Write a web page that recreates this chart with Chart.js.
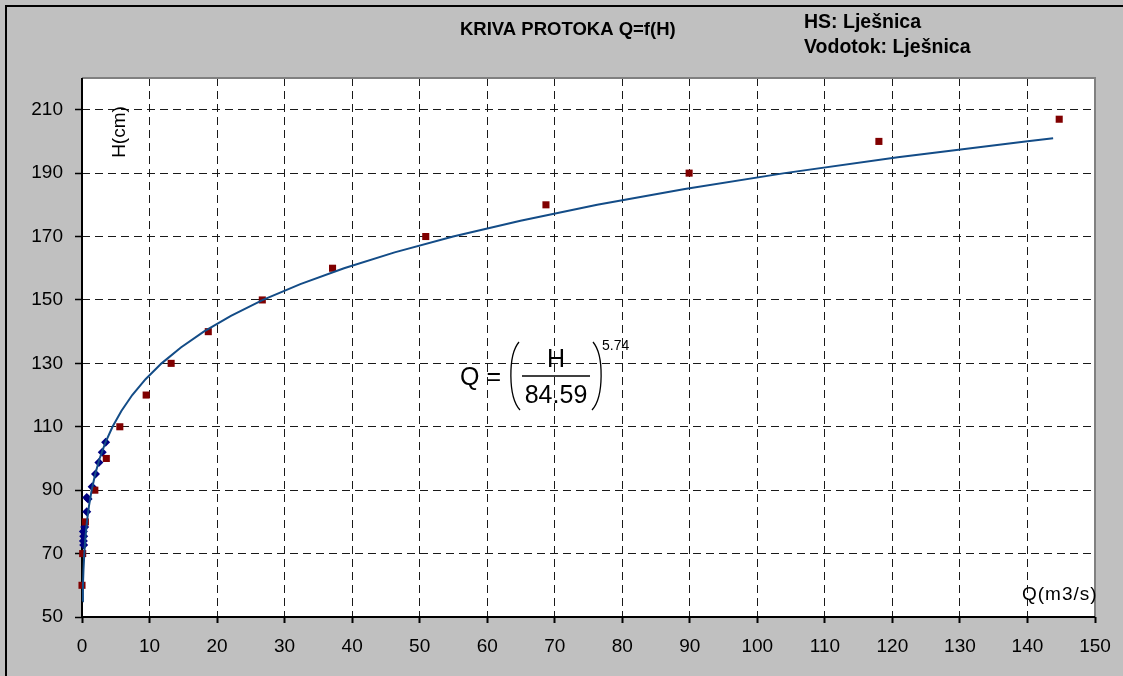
<!DOCTYPE html>
<html>
<head>
<meta charset="utf-8">
<title>Kriva protoka Q=f(H)</title>
<script src="https://cdn.jsdelivr.net/npm/chart.js@4.4.1/dist/chart.umd.min.js"></script>
<style>
  html, body { margin: 0; padding: 0; background: #fff; }
  #wrap { width: 1123px; height: 676px; position: relative; }
</style>
</head>
<body>
<div id="wrap"><canvas id="rating" width="1123" height="676"></canvas></div>
<script>
// rating curve Q=f(H)
const curveH = [55, 60, 65, 70, 75, 80, 85, 90, 95, 100, 105, 110, 115, 120, 125, 130, 135, 140,
                145, 150, 155, 160, 165, 170, 175, 180, 185, 190, 195, 200, 201];
const curveQ = [0.08, 0.14, 0.22, 0.34, 0.5, 0.73, 1.03, 1.43, 1.95, 2.61, 3.46, 4.52, 5.83, 7.44,
                9.41, 11.78, 14.64, 18.03, 22.05, 26.79, 32.33, 38.8, 46.29, 54.96, 64.93, 76.29,
                89.27, 104.05, 120.8, 139.7, 143.8];

// red squares
const tableH = [60, 70, 80, 90, 100, 110, 120, 130, 140, 150, 160, 170, 180, 190, 200, 207];
const tableQ = [0, 0.1, 0.5, 1.9, 3.6, 5.6, 9.5, 13.2, 18.7, 26.7, 37.1, 50.9, 68.7, 89.9, 118, 144.7];

// blue diamonds (measurements)
const measH = [72.7, 74, 75.5, 77, 78.4, 83.2, 87.7, 87.2, 91.1, 95.1, 98.7, 102, 105.1];
const measQ = [0.25, 0.2, 0.25, 0.2, 0.4, 0.7, 0.7, 0.9, 1.5, 2.0, 2.5, 3.0, 3.5];

const xTicks = [0, 10, 20, 30, 40, 50, 60, 70, 80, 90, 100, 110, 120, 130, 140, 150];
const yTicks = [50, 70, 90, 110, 130, 150, 170, 190, 210];

const toXY = (qs, hs) => qs.map((q, i) => ({ x: q, y: hs[i] }));

const FONT = '"Liberation Sans", Arial, sans-serif';

// gray frame, white plot, axis lines
const framePlugin = {
    id: 'frame',
    beforeDraw(chart) {
        const ctx = chart.ctx;
        const a = chart.chartArea;
        ctx.save();
        ctx.fillStyle = '#c0c0c0';
        ctx.fillRect(0, 0, chart.width, chart.height);
        ctx.fillStyle = '#ffffff';
        ctx.fillRect(a.left, a.top, a.right - a.left, a.bottom - a.top);
        ctx.strokeStyle = '#000';
        ctx.lineWidth = 2;
        ctx.beginPath();
        ctx.moveTo(6, chart.height);
        ctx.lineTo(6, 6);
        ctx.lineTo(chart.width, 6);
        ctx.stroke();
        ctx.restore();
    },
    beforeDatasetsDraw(chart) {
        const ctx = chart.ctx;
        const a = chart.chartArea;
        ctx.save();
        ctx.setLineDash([]);
        ctx.strokeStyle = '#808080';
        ctx.lineWidth = 2;
        ctx.beginPath();
        ctx.moveTo(a.left, a.top);
        ctx.lineTo(a.right, a.top);
        ctx.lineTo(a.right, a.bottom);
        ctx.stroke();
        ctx.strokeStyle = '#000';
        ctx.beginPath();
        ctx.moveTo(a.left, a.top);
        ctx.lineTo(a.left, a.bottom);
        ctx.lineTo(a.right, a.bottom);
        ctx.stroke();
        ctx.restore();
    }
};

// titles, axis names and the equation
const textPlugin = {
    id: 'texts',
    afterDraw(chart) {
        const ctx = chart.ctx;
        ctx.save();
        ctx.fillStyle = '#000';
        ctx.textBaseline = 'middle';
        ctx.textAlign = 'left';

        ctx.font = 'bold 18.5px ' + FONT;
        ctx.fillText('KRIVA PROTOKA Q=f(H)', 460, 30);
        ctx.font = 'bold 19.5px ' + FONT;
        ctx.fillText('HS: Lješnica', 804, 23);
        ctx.fillText('Vodotok: Lješnica', 804, 48);

        ctx.font = '19px ' + FONT;
        ctx.save();
        ctx.translate(120, 132);
        ctx.rotate(-Math.PI / 2);
        ctx.textAlign = 'center';
        ctx.fillText('H(cm)', 0, 0);
        ctx.restore();
        ctx.letterSpacing = '1px';
        ctx.fillText('Q(m3/s)', 1022, 595);
        ctx.letterSpacing = '0px';

        // Q = (H / 84.59)^5.74
        ctx.font = '25px ' + FONT;
        ctx.fillText('Q =', 460, 378);
        ctx.textAlign = 'center';
        ctx.fillText('H', 556, 360);
        ctx.fillText('84.59', 556, 396);
        ctx.textAlign = 'left';
        ctx.font = '14px ' + FONT;
        ctx.fillText('5.74', 602, 346);

        ctx.strokeStyle = '#000';
        ctx.lineWidth = 1.5;
        ctx.beginPath();
        ctx.moveTo(522, 376);
        ctx.lineTo(590, 376);
        ctx.stroke();
        ctx.lineWidth = 1.3;
        ctx.beginPath();
        ctx.moveTo(519, 342);
        ctx.bezierCurveTo(508, 355, 508, 397, 520, 410);
        ctx.stroke();
        ctx.beginPath();
        ctx.moveTo(593, 342);
        ctx.bezierCurveTo(604, 355, 604, 397, 592, 410);
        ctx.stroke();
        ctx.restore();
    }
};

const ctx = document.getElementById('rating').getContext('2d');

const ratingChart = new Chart(ctx, {
    type: 'scatter',
    data: {
        datasets: [
            {
                label: 'Q=f(H)',
                type: 'line',
                data: toXY(curveQ, curveH),
                borderColor: '#134c87',
                borderWidth: 2,
                pointRadius: 0,
                tension: 0,
                fill: false,
                clip: false,
            },
            {
                label: 'tabela',
                data: toXY(tableQ, tableH),
                pointStyle: 'rect',
                pointRadius: 5,
                backgroundColor: '#800000',
                borderColor: '#800000',
                borderWidth: 0,
                clip: false,
            },
            {
                label: 'mjerenja',
                data: toXY(measQ, measH),
                pointStyle: 'rectRot',
                pointRadius: 4.5,
                backgroundColor: '#000080',
                borderColor: '#000080',
                borderWidth: 0,
                clip: false,
            }
        ]
    },
    options: {
        responsive: false,
        animation: false,
        devicePixelRatio: 1,
        layout: {
            padding: { left: 0, top: 78, right: 28, bottom: 0 }
        },
        plugins: {
            legend: { display: false },
            title: { display: false },
            tooltip: { enabled: false }
        },
        scales: {
            x: {
                type: 'linear',
                min: 0,
                max: 150,
                afterBuildTicks: scale => { scale.ticks = xTicks.map(v => ({ value: v })); },
                afterFit: scale => { scale.height = 59; },
                ticks: {
                    color: '#000',
                    font: { family: FONT, size: 19 },
                    padding: 12,
                    maxRotation: 0,
                    autoSkip: false
                },
                grid: {
                    color: '#1a1a1a',
                    lineWidth: 1,
                    tickLength: 6,
                    tickColor: '#000',
                    tickWidth: 2,
                    tickBorderDash: []
                },
                border: { display: false, dash: [8, 5] }
            },
            y: {
                type: 'linear',
                min: 50,
                max: 220,
                afterBuildTicks: scale => { scale.ticks = yTicks.map(v => ({ value: v })); },
                afterFit: scale => { scale.width = 82; },
                ticks: {
                    color: '#000',
                    font: { family: FONT, size: 19 },
                    padding: 12,
                    autoSkip: false
                },
                grid: {
                    color: '#1a1a1a',
                    lineWidth: 1,
                    tickLength: 7,
                    tickColor: '#000',
                    tickWidth: 1.5,
                    tickBorderDash: []
                },
                border: { display: false, dash: [8, 5] }
            }
        }
    },
    plugins: [framePlugin, textPlugin]
});
</script>
</body>
</html>
